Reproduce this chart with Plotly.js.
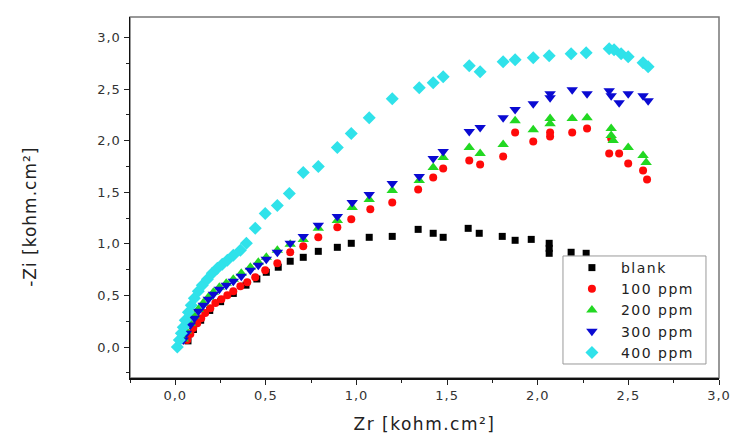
<!DOCTYPE html>
<html>
<head>
<meta charset="utf-8">
<script src="https://cdn.plot.ly/plotly-3.0.1.min.js"></script>
<style>
html,body{margin:0;padding:0;background:#fff;}
#chart{width:732px;height:437px;}
text.legendtext{letter-spacing:1.5px;}
text.xtitle{letter-spacing:1.5px;}
text.annotation-text{letter-spacing:1px;}
.xtick text, .ytick text{letter-spacing:1px;}
</style>
</head>
<body>
<div id="chart"></div>
<script>
// ---- data (Zr, -Zi in kohm.cm²) ----
var seriesNames = ["blank", "100 ppm", "200 ppm", "300 ppm", "400 ppm"];

var blankZr = [0.07,0.10,0.14,0.19,0.25,0.32,0.39,0.45,0.502,0.568,0.634,0.706,0.789,0.894,0.971,1.070,1.197,1.340,1.423,1.478,1.616,1.677,1.804,1.875,1.964,2.063,2.063,2.063,2.184,2.267];
var blankZi = [0.06,0.17,0.26,0.355,0.44,0.52,0.60,0.66,0.725,0.774,0.832,0.870,0.928,0.967,1.006,1.064,1.073,1.141,1.103,1.064,1.151,1.103,1.073,1.035,1.044,1.006,0.957,0.909,0.919,0.909];

var ppm100Zr = [0.066,0.083,0.099,0.121,0.143,0.165,0.193,0.221,0.254,0.287,0.320,0.359,0.397,0.441,0.496,0.563,0.634,0.706,0.789,0.894,0.971,1.076,1.197,1.340,1.423,1.478,1.622,1.682,1.809,1.875,1.975,2.068,2.068,2.190,2.272,2.394,2.405,2.449,2.499,2.581,2.603];
var ppm100Zi = [0.068,0.126,0.184,0.232,0.280,0.329,0.377,0.426,0.464,0.503,0.542,0.590,0.629,0.677,0.745,0.812,0.919,0.977,1.064,1.161,1.238,1.335,1.402,1.528,1.644,1.731,1.808,1.770,1.847,2.079,1.992,2.041,2.079,2.079,2.118,1.876,2.021,1.876,1.779,1.712,1.625];

var ppm200Zr = [0.044,0.061,0.083,0.105,0.127,0.154,0.182,0.210,0.243,0.281,0.320,0.364,0.414,0.458,0.502,0.563,0.634,0.706,0.789,0.894,0.976,1.070,1.197,1.346,1.423,1.478,1.622,1.682,1.809,1.875,1.975,2.068,2.068,2.190,2.272,2.405,2.405,2.416,2.499,2.581,2.598];
var ppm200Zi = [0.077,0.155,0.232,0.300,0.367,0.426,0.484,0.532,0.580,0.619,0.658,0.716,0.774,0.822,0.870,0.938,0.996,1.044,1.151,1.228,1.354,1.431,1.518,1.615,1.741,1.837,1.934,1.876,1.963,2.195,2.108,2.215,2.166,2.215,2.224,2.118,2.050,2.002,1.934,1.857,1.789];

var ppm300Zr = [0.044,0.061,0.083,0.105,0.127,0.154,0.182,0.210,0.243,0.281,0.320,0.364,0.414,0.458,0.502,0.563,0.634,0.706,0.789,0.894,0.976,1.070,1.197,1.346,1.423,1.478,1.622,1.682,1.809,1.875,1.975,2.068,2.068,2.190,2.272,2.394,2.405,2.449,2.499,2.581,2.609];
var ppm300Zi = [0.068,0.135,0.213,0.280,0.348,0.406,0.464,0.513,0.561,0.600,0.638,0.687,0.745,0.793,0.851,0.919,1.006,1.073,1.180,1.267,1.402,1.480,1.586,1.654,1.828,1.896,2.089,2.128,2.224,2.302,2.360,2.456,2.418,2.495,2.456,2.485,2.437,2.369,2.456,2.437,2.389];

var ppm400Zr = [0.011,0.022,0.033,0.044,0.055,0.072,0.088,0.105,0.127,0.149,0.177,0.204,0.232,0.259,0.287,0.320,0.359,0.392,0.441,0.496,0.563,0.629,0.706,0.789,0.894,0.971,1.070,1.197,1.346,1.423,1.478,1.622,1.682,1.809,1.875,1.975,2.063,2.184,2.267,2.394,2.421,2.460,2.499,2.581,2.609];
var ppm400Zi = [0.000,0.068,0.135,0.193,0.261,0.338,0.406,0.474,0.542,0.600,0.658,0.716,0.764,0.803,0.841,0.890,0.938,1.006,1.151,1.296,1.373,1.489,1.692,1.750,1.934,2.070,2.224,2.408,2.515,2.563,2.621,2.727,2.669,2.766,2.785,2.805,2.824,2.843,2.853,2.892,2.882,2.843,2.814,2.756,2.718];

var xTitle = "Zr [kohm.cm²]";
var yTitle = "-Zi [kohm.cm²]";

// ---- traces ----
var FONT = "DejaVu Sans, Liberation Sans, Arial, sans-serif";
function tr(name, x, y, symbol, color, size) {
  return {type: "scatter", mode: "markers", name: name, x: x, y: y,
          marker: {symbol: symbol, color: color, size: size, line: {width: 0}}};
}
var data = [
  tr(seriesNames[0], blankZr, blankZi, "square", "#000000", 7),
  tr(seriesNames[1], ppm100Zr, ppm100Zi, "circle", "#ff0a0a", 8),
  tr(seriesNames[2], ppm200Zr, ppm200Zi, "triangle-up", "#22d822", 10),
  tr(seriesNames[3], ppm300Zr, ppm300Zi, "triangle-down", "#0a0ad2", 10),
  tr(seriesNames[4], ppm400Zr, ppm400Zi, "diamond", "#30e2ea", 10)
];

var axisCommon = {
  showline: true, linecolor: "#111", linewidth: 1.5, mirror: false,
  showgrid: false, zeroline: false,
  ticks: "outside", ticklen: 5, tickwidth: 1, tickcolor: "#222",
  tickformat: ".1f", dtick: 0.5, tick0: 0,
  minor: {ticks: "outside", ticklen: 3, tickwidth: 1, tickcolor: "#222", dtick: 0.25, tick0: 0},
  tickfont: {family: FONT, size: 13, color: "#333"}
};

var layout = {
  width: 732, height: 437,
  margin: {l: 130, r: 13, t: 17, b: 59},
  paper_bgcolor: "#fff", plot_bgcolor: "#fff",
  separators: ", ",
  showlegend: true,
  xaxis: Object.assign({}, axisCommon, {
    range: [-0.25, 3.0],
    title: {text: xTitle, font: {family: FONT, size: 17, color: "#222"}, standoff: 16}
  }),
  yaxis: Object.assign({}, axisCommon, {
    range: [-0.3, 3.2]
  }),
  legend: {
    x: 0.735, y: 0.349, xanchor: "left", yanchor: "top",
    bgcolor: "rgba(0,0,0,0)", borderwidth: 0,
    font: {family: FONT, size: 14, color: "#222"},
    itemwidth: 48, tracegroupgap: 0
  },
  shapes: [
    {type: "rect", xref: "paper", yref: "paper", x0: 0, x1: 1, y0: 0, y1: 1,
     line: {color: "#777", width: 1.5}, layer: "below"},
    {type: "rect", xref: "paper", yref: "paper", x0: 0.7351, x1: 0.9779, y0: 0.0388, y1: 0.338,
     line: {color: "#999", width: 1}, fillcolor: "#ffffff", layer: "above"}
  ],
  annotations: [{
    text: yTitle, xref: "paper", yref: "paper", x: -0.170, y: 0.446,
    textangle: -90, showarrow: false, xanchor: "center", yanchor: "middle",
    font: {family: FONT, size: 17, color: "#222"}
  }]
};

Plotly.newPlot("chart", data, layout, {displayModeBar: false, staticPlot: true});
</script>
</body>
</html>
